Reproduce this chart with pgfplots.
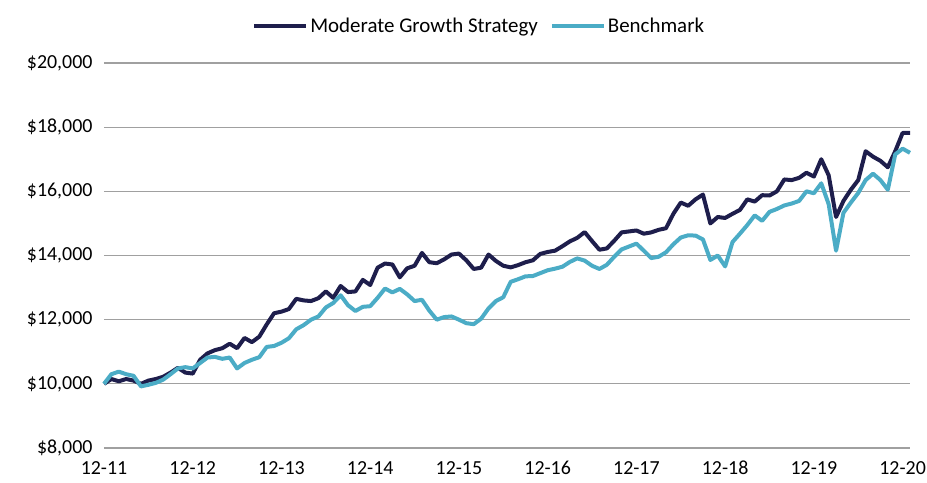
\documentclass[border=0pt]{standalone}
\usepackage{pgfplots}
\pgfplotsset{compat=1.18}
\usepackage{pgfplotstable}
\usepackage{fontspec}
\setmainfont{Carlito}
\definecolor{navy}{RGB}{30,30,76}
\definecolor{lblue}{RGB}{75,172,198}
\definecolor{gridc}{RGB}{160,160,160}

\pgfplotstableread{
m v
0 10000
1 10150
2 10080
3 10150
4 10100
5 10000
6 10100
7 10150
8 10220
9 10350
10 10500
11 10350
12 10320
13 10750
14 10950
15 11050
16 11110
17 11250
18 11110
19 11430
20 11300
21 11470
22 11850
23 12200
24 12250
25 12330
26 12650
27 12600
28 12580
29 12670
30 12880
31 12680
32 13050
33 12860
34 12880
35 13240
36 13080
37 13620
38 13750
39 13720
40 13320
41 13600
42 13680
43 14080
44 13790
45 13760
46 13880
47 14030
48 14060
49 13850
50 13580
51 13620
52 14030
53 13830
54 13680
55 13630
56 13700
57 13790
58 13850
59 14050
60 14110
61 14150
62 14290
63 14440
64 14550
65 14730
66 14450
67 14180
68 14220
69 14460
70 14720
71 14750
72 14780
73 14680
74 14720
75 14800
76 14850
77 15300
78 15650
79 15550
80 15750
81 15900
82 15000
83 15200
84 15170
85 15300
86 15420
87 15750
88 15680
89 15880
90 15870
91 16000
92 16370
93 16350
94 16420
95 16580
96 16460
97 17000
98 16500
99 15200
100 15700
101 16050
102 16350
103 17250
104 17080
105 16950
106 16750
107 17250
108 17820
109 17820
}\strategy

\pgfplotstableread{
m v
0 10000
1 10300
2 10380
3 10300
4 10250
5 9920
6 9970
7 10030
8 10130
9 10300
10 10480
11 10520
12 10480
13 10650
14 10820
15 10840
16 10780
17 10820
18 10480
19 10650
20 10750
21 10830
22 11150
23 11180
24 11280
25 11420
26 11700
27 11830
28 12000
29 12100
30 12380
31 12520
32 12760
33 12450
34 12270
35 12400
36 12420
37 12680
38 12970
39 12850
40 12960
41 12790
42 12580
43 12620
44 12280
45 12000
46 12080
47 12100
48 12000
49 11890
50 11860
51 12030
52 12350
53 12580
54 12700
55 13180
56 13260
57 13350
58 13360
59 13450
60 13540
61 13590
62 13650
63 13800
64 13910
65 13840
66 13680
67 13580
68 13710
69 13960
70 14190
71 14280
72 14370
73 14150
74 13920
75 13960
76 14100
77 14350
78 14560
79 14630
80 14620
81 14500
82 13860
83 14000
84 13660
85 14420
86 14680
87 14950
88 15250
89 15080
90 15360
91 15450
92 15560
93 15620
94 15700
95 16000
96 15940
97 16250
98 15600
99 14150
100 15330
101 15650
102 15950
103 16350
104 16550
105 16350
106 16050
107 17150
108 17330
109 17200
}\bench

\begin{document}
\begin{tikzpicture}
\begin{axis}[
  scale only axis,
  width=806bp, height=385bp,
  xmin=0, xmax=109,
  ymin=8000, ymax=20000,
  xtick={0,12,...,108},
  xticklabels={12-11,12-12,12-13,12-14,12-15,12-16,12-17,12-18,12-19,12-20},
  ytick={8000,10000,...,20000},
  scaled y ticks=false,
  yticklabel={\$\pgfmathprintnumber[fixed,precision=0,1000 sep={,},assume math mode=true]{\tick}},
  axis line style={draw=none},
  major tick length=0pt,
  ymajorgrids,
  grid style={gridc, line width=1.1bp},
  tick label style={font=\fontsize{20}{23}\selectfont, text=black},
  yticklabel style={xshift=-8bp},
  xticklabel style={anchor=base, yshift=-26bp},
  clip=false,
  legend columns=2,
  legend style={at={(0.4655,1.097)}, anchor=center, draw=none, fill=none,
    font=\fontsize{21}{24}\selectfont,
    /tikz/every even column/.append style={column sep=10bp}},
  legend image code/.code={\draw[#1] (0bp,0bp) -- (52bp,0bp);},
]
\addplot[navy, line width=4bp, line join=round] table[x=m, y=v] {\strategy};
\addlegendentry{Moderate Growth Strategy}
\addplot[lblue, line width=4bp, line join=round] table[x=m, y=v] {\bench};
\addlegendentry{Benchmark}
\coordinate (sw) at (rel axis cs:0,0);
\end{axis}
\pgfresetboundingbox
\path ([shift={(-104bp,-35bp)}]sw) rectangle ++(927bp,483bp);
\end{tikzpicture}
\end{document}
